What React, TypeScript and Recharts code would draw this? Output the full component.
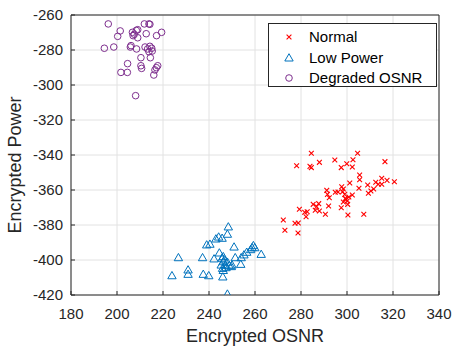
import { ScatterChart, Scatter, XAxis, YAxis, CartesianGrid, Legend } from "recharts";

const xTicks = [180, 200, 220, 240, 260, 280, 300, 320, 340];
const yTicks = [-420, -400, -380, -360, -340, -320, -300, -280, -260];

// [Encrypted OSNR, Encrypted Power]
const normalPts: [number, number][] = [
  [284.5, -339], [278.1, -346.1], [283.9, -346.5], [284.5, -347.2], [288, -344.2],
  [294.7, -342.9], [297.5, -347.2], [299.9, -345], [291.2, -360.2], [291.5, -362.5],
  [292.3, -364.4], [294.9, -361.3], [297.7, -358.1], [298.4, -359.4], [298.1, -361],
  [299.3, -364.8], [300.1, -366.3], [297.5, -370.1], [292, -369.1], [285.3, -368.2],
  [286.8, -369.5], [287.7, -367.8], [286.2, -371.6], [288, -372], [279.3, -371],
  [281.6, -372.7], [282.7, -372.4], [282.2, -375.3], [290.6, -373.9], [272.3, -377.1],
  [277.4, -379], [278.8, -378.9], [273, -383], [278.7, -384.6], [300.4, -374.3],
  [304.6, -339], [302.6, -342.7], [302.3, -346.9], [316.5, -343.8], [305.5, -351.4],
  [305.5, -354.1], [305.2, -359], [301.2, -356], [302.3, -362.9], [300.3, -368.2],
  [309, -357.1], [309.3, -361.9], [310.4, -360.6], [311.6, -359.4], [312.5, -355.6],
  [313.6, -356.7], [315.1, -353.3], [315.1, -356.7], [317.4, -354.5], [320.6, -355.3],
  [307.3, -373.9], [296.1, -361.1], [299.6, -365.3], [298.4, -366.9], [300.8, -364],
  [299, -362.5],
];

const lowPowerPts: [number, number][] = [
  [226.7, -398.7], [237.2, -398.7], [223.9, -409], [230.9, -405.7], [230.9, -408.2],
  [237.5, -408.2], [239.9, -409], [242.2, -399.4], [239, -391.4], [240.4, -391],
  [243, -388], [244.2, -386.9], [245.7, -387.6], [246, -409.7], [248, -419.5],
  [248.4, -381.1], [248, -385.3], [250.9, -392.6], [259.3, -391.8], [258.7, -393],
  [259.9, -393], [258.1, -394.1], [262.7, -396.8], [256.4, -395.6], [255.2, -397.1],
  [254, -398.7], [251.4, -398.7], [253.8, -402.5], [250, -402.9], [246.2, -398.1],
  [245.7, -399], [246.8, -400], [246.2, -401], [245.3, -402.9], [247.1, -402.9],
  [248, -401.3], [245.9, -404.8], [247.4, -404.4], [248.8, -403.3], [249.7, -403.8],
  [246.2, -406], [244.5, -396],
];

const degradedPts: [number, number][] = [
  [196.2, -265.1], [201.4, -269.1], [200.3, -272.2], [194.5, -279], [198.6, -278.3],
  [206.7, -269.9], [207.5, -271], [208.4, -268.8], [209, -268.4], [207, -271.8],
  [209, -273], [211.9, -265.1], [213.9, -265.1], [214.3, -265.3], [212.7, -270.7],
  [217.2, -271.8], [219.4, -269.9], [206.1, -277.5], [205.8, -278.3], [208.5, -279.4],
  [212.2, -278.3], [213.3, -279.4], [214.3, -277.9], [215.1, -279], [213.9, -281],
  [215.3, -280.6], [210.4, -284.4], [214.5, -284.4], [204.6, -287.8], [210.4, -289],
  [210.7, -290.5], [201.7, -292.8], [204.5, -292.8], [217.7, -289], [217.1, -290.1],
  [216.5, -291.4], [216, -294.3], [208.1, -306.1],
];

const RED = "#ff0000";
const BLUE = "#0072bd";
const PURPLE = "#7e2f8e";
const AXIS = "#262626";
const FONT = "'Liberation Sans', Arial, sans-serif";

const toData = (pts: [number, number][]) => pts.map(([x, y]) => ({ x, y }));

function Cross({ cx, cy }: any) {
  const s = 2.4;
  return (
    <path
      d={`M${cx - s},${cy - s}L${cx + s},${cy + s}M${cx - s},${cy + s}L${cx + s},${cy - s}`}
      stroke={RED}
      strokeWidth={1.1}
      fill="none"
    />
  );
}

function Tri({ cx, cy }: any) {
  return (
    <path
      d={`M${cx},${cy - 4.3}L${cx - 4.2},${cy + 3}L${cx + 4.2},${cy + 3}Z`}
      stroke={BLUE}
      strokeWidth={1}
      fill="none"
    />
  );
}

function Ring({ cx, cy }: any) {
  return <circle cx={cx} cy={cy} r={3.3} stroke={PURPLE} strokeWidth={1} fill="none" />;
}

const legendRows = [
  { name: "Normal", Shape: Cross },
  { name: "Low Power", Shape: Tri },
  { name: "Degraded OSNR", Shape: Ring },
];

function LegendBox() {
  return (
    <div
      style={{
        position: "relative",
        width: 169,
        height: 64,
        boxSizing: "border-box",
        border: "1px solid " + AXIS,
        background: "#fff",
        fontFamily: FONT,
        fontSize: 15,
        color: "#000",
      }}
    >
      {legendRows.map(({ name, Shape }, i) => (
        <div key={name} style={{ position: "absolute", left: 0, top: 3 + i * 20.5, height: 20, width: "100%" }}>
          <svg width={30} height={20} style={{ position: "absolute", left: 5, top: 0 }}>
            <Shape cx={15} cy={10} />
          </svg>
          <span style={{ position: "absolute", left: 40, top: 1, lineHeight: "18px", whiteSpace: "nowrap" }}>{name}</span>
        </div>
      ))}
    </div>
  );
}

const tickStyle = { fontSize: 15, fill: AXIS, fontFamily: FONT };

export default function App() {
  return (
    <div style={{ position: "absolute", left: 0, top: 0, background: "#fff" }}>
      <ScatterChart width={454} height={347} margin={{ top: 14, right: 14, bottom: 0, left: 0 }}>
        <CartesianGrid stroke="#e2e2e2" strokeWidth={1} />
        <XAxis
          dataKey="x"
          type="number"
          domain={[180, 340]}
          ticks={xTicks}
          allowDataOverflow
          height={52}
          tickSize={-4}
          tickMargin={17}
          tick={tickStyle}
          stroke={AXIS}
          label={{
            value: "Encrypted OSNR",
            content: ({ viewBox }: any) => (
              <text
                x={viewBox.x + viewBox.width / 2}
                y={viewBox.y + 47}
                textAnchor="middle"
                fontSize={18}
                fill={AXIS}
                fontFamily={FONT}
              >
                Encrypted OSNR
              </text>
            ),
          }}
        />
        <YAxis
          dataKey="y"
          type="number"
          domain={[-420, -260]}
          ticks={yTicks}
          allowDataOverflow
          width={71}
          tickSize={-4}
          tickMargin={12}
          tick={tickStyle}
          stroke={AXIS}
          label={{
            value: "Encrypted Power",
            content: ({ viewBox }: any) => {
              const x = viewBox.x + 21;
              const y = viewBox.y + viewBox.height / 2 + 10;
              return (
                <text
                  x={x}
                  y={y}
                  transform={`rotate(-90 ${x} ${y})`}
                  textAnchor="middle"
                  fontSize={18}
                  fill={AXIS}
                  fontFamily={FONT}
                >
                  Encrypted Power
                </text>
              );
            },
          }}
        />
        <XAxis
          xAxisId="top"
          orientation="top"
          type="number"
          domain={[180, 340]}
          ticks={xTicks}
          allowDataOverflow
          height={1}
          tickSize={-4}
          tick={false}
          stroke={AXIS}
        />
        <YAxis
          yAxisId="right"
          orientation="right"
          type="number"
          domain={[-420, -260]}
          ticks={yTicks}
          allowDataOverflow
          width={1}
          tickSize={-4}
          tick={false}
          stroke={AXIS}
        />
        <Legend
          layout="vertical"
          verticalAlign="middle"
          align="center"
          content={() => <LegendBox />}
          wrapperStyle={{ position: "absolute", left: 268, top: 23, width: 169, height: 64 }}
        />
        <Scatter name="Normal" data={toData(normalPts)} shape={Cross} isAnimationActive={false} />
        <Scatter name="Low Power" data={toData(lowPowerPts)} shape={Tri} isAnimationActive={false} />
        <Scatter name="Degraded OSNR" data={toData(degradedPts)} shape={Ring} isAnimationActive={false} />
      </ScatterChart>
    </div>
  );
}
